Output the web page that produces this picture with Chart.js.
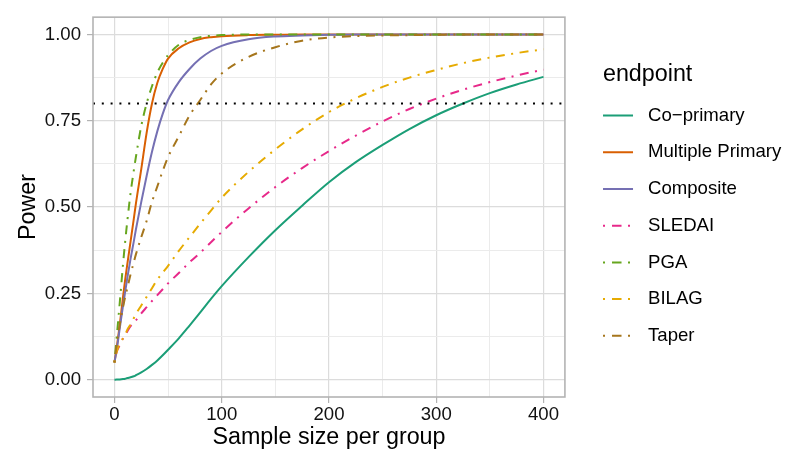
<!DOCTYPE html>
<html>
<head>
<meta charset="utf-8">
<script src="https://cdn.jsdelivr.net/npm/chart.js@4.4.1/dist/chart.umd.min.js"></script>
<style>
  html, body { margin: 0; padding: 0; background: #ffffff; }
  #wrap { width: 800px; height: 469px; }
</style>
</head>
<body>
<div id="wrap"><canvas id="powerChart" width="800" height="469"></canvas></div>
<script>
// values
const sampleSize = [0, 2, 5, 8, 10, 12, 15, 18, 20, 25, 30, 35, 40, 45, 50, 60, 70, 80, 90, 100,
                    125, 150, 175, 200, 225, 250, 275, 300, 325, 350, 375, 400];

const coPrimary = [0, 0.0005, 0.001, 0.002, 0.003, 0.005, 0.007, 0.01, 0.013, 0.021,
                   0.031, 0.043, 0.056, 0.071, 0.087, 0.12, 0.157, 0.195, 0.234, 0.271,
                   0.355, 0.433, 0.504, 0.572, 0.63, 0.68, 0.726, 0.766, 0.80, 0.83,
                   0.855, 0.877];
const multiplePrimary = [0.05, 0.09, 0.16, 0.24, 0.29, 0.335, 0.40, 0.465, 0.51, 0.61,
                         0.715, 0.80, 0.86, 0.90, 0.93, 0.96, 0.977, 0.987, 0.992, 0.995,
                         0.998, 0.999, 1, 1, 1, 1, 1, 1, 1, 1, 1, 1];
const composite = [0.05, 0.085, 0.15, 0.215, 0.255, 0.295, 0.35, 0.40, 0.435, 0.515,
                   0.59, 0.66, 0.72, 0.77, 0.81, 0.862, 0.90, 0.93, 0.952, 0.967,
                   0.986, 0.994, 0.997, 0.999, 1, 1, 1, 1, 1, 1, 1, 1];
const sledai = [0.05, 0.08, 0.10, 0.12, 0.13, 0.14, 0.155, 0.165, 0.172, 0.192,
                0.21, 0.228, 0.245, 0.262, 0.279, 0.309, 0.34, 0.368, 0.398, 0.428,
                0.496, 0.558, 0.613, 0.662, 0.707, 0.748, 0.784, 0.814, 0.84, 0.862,
                0.881, 0.898];
const pga = [0.05, 0.12, 0.225, 0.335, 0.40, 0.46, 0.54, 0.605, 0.645, 0.735,
             0.80, 0.85, 0.89, 0.918, 0.94, 0.97, 0.984, 0.992, 0.996, 0.998,
             1, 1, 1, 1, 1, 1, 1, 1, 1, 1, 1, 1];
const bilag = [0.05, 0.08, 0.105, 0.12, 0.13, 0.145, 0.16, 0.178, 0.19, 0.215,
               0.24, 0.265, 0.29, 0.31, 0.33, 0.373, 0.413, 0.452, 0.49, 0.527,
               0.602, 0.667, 0.725, 0.775, 0.815, 0.848, 0.875, 0.897, 0.917, 0.933,
               0.946, 0.957];
const taper = [0.05, 0.10, 0.16, 0.21, 0.24, 0.265, 0.305, 0.34, 0.363, 0.413,
               0.46, 0.515, 0.56, 0.605, 0.645, 0.705, 0.765, 0.81, 0.855, 0.887,
               0.935, 0.963, 0.982, 0.991, 0.995, 0.997, 0.998, 0.999, 1, 1, 1, 1];

const targetPower = 0.8;
const xTicks = [0, 50, 100, 150, 200, 250, 300, 350, 400];
const yTicks = [0, 0.125, 0.25, 0.375, 0.5, 0.625, 0.75, 0.875, 1];

const dotdash = [2, 6.5, 9, 6.5];
// legend keys are 30px long inside a wider box, the tail is a gap
const keySolid = [30, 40];
const keyDotdash = [2, 7, 9.5, 6.5, 2, 40];
const toPoints = (ys) => sampleSize.map((n, i) => ({x: n, y: ys[i]}));

function series(label, ys, color, dash) {
    return {
        label: label,
        data: toPoints(ys),
        borderColor: color,
        backgroundColor: color,
        borderWidth: 2,
        borderDash: dash,
        pointRadius: 0,
        cubicInterpolationMode: 'monotone',
        fill: false
    };
}

// ggplot draws the last level on top, chart.js draws index 0 on top
const datasets = [
    {
        label: '',
        data: [{x: -20, y: targetPower}, {x: 420, y: targetPower}],
        borderColor: '#000000',
        borderWidth: 2,
        borderDash: [2, 6.8],
        pointRadius: 0
    },
    series('Taper', taper, '#A6761D', dotdash),
    series('BILAG', bilag, '#E6AB02', dotdash),
    series('PGA', pga, '#66A61E', dotdash),
    series('SLEDAI', sledai, '#E7298A', dotdash),
    series('Composite', composite, '#7570B3', []),
    series('Multiple Primary', multiplePrimary, '#D95F02', []),
    series('Co\u2212primary', coPrimary, '#1B9E77', [])
];

const isMajorX = (v) => v % 100 === 0;
const isMajorY = (v) => Math.abs(v * 4 - Math.round(v * 4)) < 1e-9;

const panelBorder = {
    id: 'panelBorder',
    afterDatasetsDraw(chart) {
        const {ctx, chartArea: a} = chart;
        ctx.save();
        ctx.strokeStyle = '#B3B3B3';
        ctx.lineWidth = 1.6;
        ctx.strokeRect(a.left, a.top, a.right - a.left, a.bottom - a.top);
        ctx.restore();
    }
};

// legend title sits over the keys, not at the legend box edge
const legendTitleNudge = {
    id: 'legendTitleNudge',
    beforeDraw(chart) {
        const lg = chart.legend;
        if (lg && !lg._nudged) {
            const draw = lg.drawTitle;
            lg.drawTitle = function () {
                this.left += 18;
                draw.call(this);
                this.left -= 18;
            };
            lg._nudged = true;
        }
    }
};

Chart.defaults.font.family = '"Liberation Sans", Arial, Helvetica, sans-serif';
Chart.defaults.color = '#111111';

const ctx = document.getElementById('powerChart').getContext('2d');
const powerChart = new Chart(ctx, {
    type: 'line',
    data: { datasets: datasets },
    options: {
        responsive: false,
        animation: false,
        layout: { padding: { top: 17, left: 0, right: 8.7, bottom: 0 } },
        plugins: {
            tooltip: { enabled: false },
            legend: {
                position: 'right',
                align: 'start',
                reverse: true,
                maxWidth: 400,
                title: {
                    display: true,
                    text: 'endpoint',
                    color: '#000000',
                    position: 'start',
                    font: { size: 23.3, lineHeight: 1 },
                    padding: { top: 46.3, bottom: 1.6 }
                },
                labels: {
                    color: '#000000',
                    font: { size: 18.6 },
                    usePointStyle: true,
                    pointStyle: 'line',
                    pointStyleWidth: 35.7,
                    padding: 18.1,
                    filter: (item) => item.text !== '',
                    generateLabels: (chart) => {
                        const items = Chart.defaults.plugins.legend.labels.generateLabels(chart);
                        items.forEach((item) => {
                            const ds = chart.data.datasets[item.datasetIndex];
                            const dashed = ds.borderDash && ds.borderDash.length > 0;
                            item.lineDash = dashed ? keyDotdash : keySolid;
                            item.lineWidth = ds.borderWidth;
                            item.strokeStyle = ds.borderColor;
                        });
                        return items;
                    }
                }
            }
        },
        scales: {
            x: {
                type: 'linear',
                min: -20,
                max: 420,
                afterFit: (scale) => { scale.height = 72; },
                afterBuildTicks: (scale) => { scale.ticks = xTicks.map(v => ({value: v})); },
                border: { display: false },
                grid: {
                    color: (c) => isMajorX(c.tick.value) ? '#DCDCDC' : '#EBEBEB',
                    lineWidth: (c) => isMajorX(c.tick.value) ? 1.2 : 1,
                    tickColor: (c) => isMajorX(c.tick.value) ? '#B3B3B3' : 'rgba(0,0,0,0)',
                    tickLength: 6,
                    tickWidth: 1.2
                },
                ticks: {
                    autoSkip: false,
                    maxRotation: 0,
                    padding: 1,
                    font: { size: 18.6 },
                    callback: (v) => isMajorX(v) ? String(v) : ''
                },
                title: {
                    display: true,
                    text: 'Sample size per group',
                    color: '#000000',
                    font: { size: 23.3 },
                    padding: { top: 0, bottom: 17.3 }
                }
            },
            y: {
                type: 'linear',
                min: -0.05,
                max: 1.05,
                afterFit: (scale) => { scale.width = 93; },
                afterBuildTicks: (scale) => { scale.ticks = yTicks.map(v => ({value: v})); },
                border: { display: false },
                grid: {
                    color: (c) => isMajorY(c.tick.value) ? '#DCDCDC' : '#EBEBEB',
                    lineWidth: (c) => isMajorY(c.tick.value) ? 1.2 : 1,
                    tickColor: (c) => isMajorY(c.tick.value) ? '#B3B3B3' : 'rgba(0,0,0,0)',
                    tickLength: 6,
                    tickWidth: 1.2
                },
                ticks: {
                    autoSkip: false,
                    padding: 6,
                    font: { size: 18.6 },
                    callback: (v) => isMajorY(v) ? v.toFixed(2) : ''
                },
                title: {
                    display: true,
                    text: 'Power',
                    color: '#000000',
                    font: { size: 23.3 },
                    padding: { top: 14.2, bottom: 0 }
                }
            },
            gap: {
                type: 'linear',
                position: 'right',
                display: true,
                afterFit: (scale) => { scale.width = 20; },
                grid: { display: false },
                border: { display: false },
                ticks: { display: false }
            }
        }
    },
    plugins: [panelBorder, legendTitleNudge]
});
</script>
</body>
</html>
